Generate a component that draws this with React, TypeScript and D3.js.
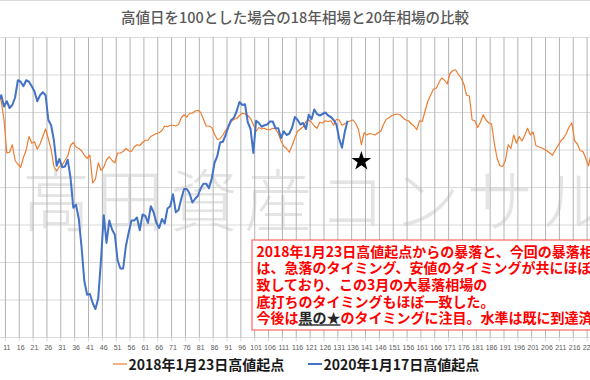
import React from 'react';
import * as d3 from 'd3';

const W = 590;
const H = 380;

const title = '高値日を100とした場合の18年相場と20年相場の比較';
const seriesNames = ['2018年1月23日高値起点', '2020年1月17日高値起点'];
const seriesColors = ['#ED7D31', '#4472C4'];

const tickLabels = [1, 6, 11, 16, 21, 26, 31, 36, 41, 46, 51, 56, 61, 66, 71, 76, 81, 86, 91, 96, 101, 106, 111, 116, 121, 126, 131, 136, 141, 146, 151, 156, 161, 166, 171, 176, 181, 186, 191, 196, 201, 206, 211, 216, 221];
const yGridValues = [65, 70, 75, 80, 85, 90, 95, 100, 105];

const series2018 = [
  100, 99.2, 98.1, 98.0, 97.9, 96.6, 95.7, 97.4, 96.5, 94.0,
  89.6, 89.7, 90.7, 88.6, 88.1, 87.7, 89.0, 90.0, 91.8, 90.9,
  91.1, 90.1, 90.8, 91.8, 92.8, 91.5, 90.1, 87.8, 87.2, 87.8,
  88.0, 88.6, 89.2, 90.6, 91.0, 90.4, 90.2, 89.9, 89.3, 88.9,
  89.3, 85.6, 86.1, 88.3, 87.3, 87.7, 88.7, 89.1, 88.6, 88.3,
  89.6, 89.6, 89.8, 90.2, 89.9, 89.8, 90.4, 90.7, 90.6, 91.0,
  91.3, 91.3, 91.8, 92.0, 92.2, 92.3, 92.6, 93.2, 93.1, 93.3,
  93.3, 93.2, 93.4, 94.3, 94.7, 94.4, 94.9, 94.9, 95.2, 95.3,
  95.0, 94.1, 93.2, 93.2, 93.0, 92.1, 91.4, 91.5, 92.0, 92.6,
  93.2, 93.8, 94.1, 94.2, 94.6, 94.9, 94.8, 94.6, 94.2, 93.4,
  92.5, 93.0, 92.8, 92.9, 92.7, 92.7, 92.9, 92.8, 92.2, 91.2,
  90.5, 90.2, 89.7, 90.6, 91.6, 92.5, 92.8, 93.1, 93.8, 94.0,
  93.7, 93.2, 92.9, 93.7, 93.6, 93.9, 93.8, 93.9, 93.3, 94.1,
  94.0, 93.3, 93.5, 93.7, 93.9, 94.0, 93.5, 92.7, 90.7, 92.3,
  92.0, 92.2, 92.1, 92.0, 92.3, 92.5, 93.4, 94.1, 94.3, 94.6,
  94.7, 94.8, 94.7, 94.3, 94.0, 93.9, 93.5, 93.2, 92.7, 93.9,
  93.8, 95.2, 96.5, 97.3, 98.1, 98.2, 99.0, 99.6, 99.3, 98.8,
  100.2, 100.6, 100.7, 100.1, 99.6, 98.8, 97.3, 97.2, 94.0, 93.9,
  93.0, 93.7, 94.7, 94.0, 93.6, 93.5, 90.9, 88.9, 87.9, 87.8,
  88.6, 90.7, 90.2, 92.0, 90.9, 91.8, 91.2, 92.0, 92.9, 92.0,
  92.4, 90.6, 90.4, 90.3, 90.1, 89.9, 89.6, 89.3, 90.0, 90.6,
  91.2, 91.6, 92.2, 93.1, 93.6, 91.2, 90.8, 89.9, 89.8, 88.9,
  87.9, 89.6, 90.6,
];

const series2020 = [
  100, 99.3, 99.3, 100.0, 99.0, 99.1, 97.1, 96.6, 97.3, 95.8,
  96.5, 95.6, 96.0, 97.0, 99.3, 99.1, 98.5, 99.3, 99.1, 98.5,
  97.8, 96.5, 97.3, 97.7, 97.3, 94.0, 93.3, 91.3, 87.9, 88.8,
  87.7, 87.8, 88.7, 86.3, 82.3, 82.7, 80.8, 77.0, 72.5, 70.7,
  70.8, 69.6, 68.8, 70.2, 75.3, 81.3, 77.6, 80.6, 79.4, 78.7,
  75.3, 74.2, 74.2, 77.2, 79.0, 80.6, 80.6, 81.0, 79.3, 81.4,
  81.2, 80.3, 82.5, 81.7, 80.3, 79.6, 80.8, 80.2, 82.2, 82.5,
  84.1, 81.7, 82.0, 83.5, 84.8, 84.8, 84.2, 83.0, 83.5, 83.9,
  84.9, 85.5, 85.5, 84.9, 86.2, 88.3, 89.2, 91.0, 91.1, 92.0,
  93.1, 94.0, 94.3, 95.2, 96.4, 96.0, 96.1, 93.7, 92.8, 89.6,
  93.9, 93.6, 93.1, 93.3, 93.4, 93.8, 93.8, 92.9, 92.9, 91.6,
  92.5, 92.0, 92.2, 93.0, 94.4, 94.0, 93.4, 93.6, 92.8, 94.7,
  94.1, 95.4, 94.8, 94.6, 94.8, 95.0, 94.6, 94.4, 94.0, 93.4,
  91.5, 90.3, 92.4, 93.9,
];

const starPoint = { day: 139, value: 88.5 };

const noteLines = [
  '2018年1月23日高値起点からの暴落と、今回の暴落相場',
  'は、急落のタイミング、安値のタイミングが共にほぼ一',
  '致しており、この3月の大暴落相場の',
  '底打ちのタイミングもほぼ一致した。',
];
const noteLast = ['今後は', '黒の★', 'のタイミングに注目。水準は既に到達済み。'];

const watermark = '高田資産コンサルタント';

const CJK = '"Noto Sans CJK JP", "Noto Sans", sans-serif';

export default function App() {
  const top = 37.5;
  const bottom = 337.5;
  const x = d3.scaleLinear().domain([11, 216]).range([6.8, 6.8 + 205 * 2.77]);
  const y = d3.scaleLinear().domain([65, 105]).range([bottom, top]);
  const line = d3
    .line<number>()
    .x((_, i) => x(i + 1))
    .y((d) => y(d));

  const star = d3.symbol().type(d3.symbolStar).size(120)();
  const visibleLabels = tickLabels.filter((t) => x(t) > 4);

  return (
    <div style={{ position: 'absolute', left: 0, top: 0, width: W, height: H, background: '#fff' }}>
      <svg width={W} height={H} style={{ display: 'block' }}>
        <rect x={0} y={0} width={W} height={H} fill="#fff" />
        <line x1={0} x2={W} y1={0.5} y2={0.5} stroke="#d9d9d9" />
        <text
          x={295}
          y={23}
          textAnchor="middle"
          fontFamily={CJK}
          fontSize={14.5}
          fontWeight={500}
          fill="#595959"
        >
          {title}
        </text>

        {/* watermark */}
        <text
          x={22}
          y={226}
          fontFamily={CJK}
          fontSize={68}
          fontWeight={200}
          fill="#e4e4e4"
          letterSpacing={6}
        >
          {watermark}
        </text>

        {/* horizontal gridlines */}
        {yGridValues.map((v) => (
          <line key={'h' + v} x1={0} x2={W} y1={y(v)} y2={y(v)} stroke="#d9d9d9" strokeWidth={1} />
        ))}
        {/* vertical gridlines */}
        {tickLabels.map((t) => (
          <line
            key={'v' + t}
            x1={x(t - 0.5)}
            x2={x(t - 0.5)}
            y1={top}
            y2={bottom}
            stroke="#b3b3b3"
            strokeWidth={1}
          />
        ))}
        {tickLabels.map((t) => (
          <line
            key={'tk' + t}
            x1={x(t - 0.5)}
            x2={x(t - 0.5)}
            y1={bottom}
            y2={bottom + 4}
            stroke="#d9d9d9"
            strokeWidth={1}
          />
        ))}
        {visibleLabels.map((t) => (
          <text
            key={'tl' + t}
            x={x(t)}
            y={bottom + 12.5}
            textAnchor="middle"
            fontFamily='"Liberation Sans", Arial, sans-serif'
            fontSize={7}
            fill="#595959"
          >
            {t}
          </text>
        ))}

        {/* series */}
        <path d={line(series2018) || ''} fill="none" stroke={seriesColors[0]} strokeWidth={1.2} strokeLinejoin="round" />
        <path d={line(series2020) || ''} fill="none" stroke={seriesColors[1]} strokeWidth={2} strokeLinejoin="round" />

        {/* star */}
        <path d={star || ''} transform={`translate(${x(starPoint.day)},${y(starPoint.value)})`} fill="#000" />

        {/* annotation */}
        <rect x={252} y={240} width={400} height={90} fill="#fff" stroke="#ff4b4b" strokeWidth={1} />
        {noteLines.map((t, i) => (
          <text
            key={'n' + i}
            x={256.5}
            y={256.5 + i * 16.7}
            fontFamily={CJK}
            fontSize={14}
            fontWeight={700}
            fill="#ff0000"
          >
            {t}
          </text>
        ))}
        <text x={256.5} y={256.5 + 4 * 16.7} fontFamily={CJK} fontSize={14} fontWeight={700} fill="#ff0000">
          <tspan>{noteLast[0]}</tspan>
          <tspan fill="#262626" textDecoration="underline">
            {noteLast[1]}
          </tspan>
          <tspan>{noteLast[2]}</tspan>
        </text>

        {/* legend */}
        {seriesNames.map((n, i) => {
          const lx = i === 0 ? 113 : 308;
          return (
            <g key={'lg' + i}>
              <line x1={lx} x2={lx + 14} y1={364} y2={364} stroke={seriesColors[i]} strokeWidth={i === 0 ? 1.2 : 2} />
              <text x={lx + 15.5} y={369.5} fontFamily={CJK} fontSize={14} fontWeight={700} fill="#1a1a1a">
                {n}
              </text>
            </g>
          );
        })}
      </svg>
    </div>
  );
}
